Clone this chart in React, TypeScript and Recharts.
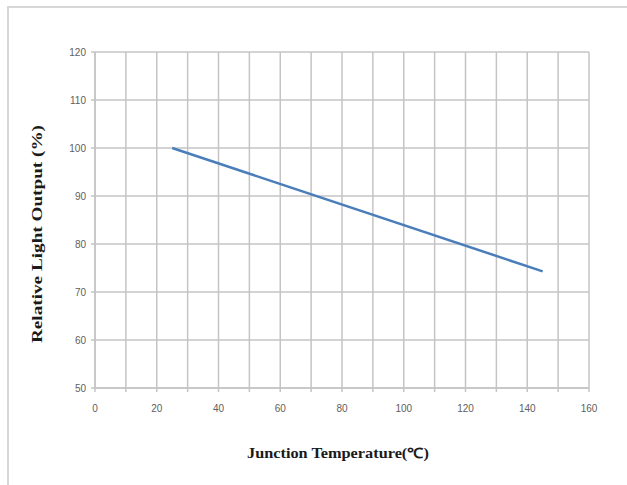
import React from 'react';
import { LineChart, Line, XAxis, YAxis, CartesianGrid } from 'recharts';

const temperatures = [25, 145];
const lightOutput = [100, 74.3];
const xTicks = [0, 10, 20, 30, 40, 50, 60, 70, 80, 90, 100, 110, 120, 130, 140, 150, 160];
const yTicks = [50, 60, 70, 80, 90, 100, 110, 120];

const data = temperatures.map((t, i) => ({ t, v: lightOutput[i] }));

const gridColor = '#c4c4c4';
const tickStyle = { fontSize: 10, fill: '#606060', fontFamily: 'Liberation Sans, Arial, sans-serif' };

const XTitle = (props: any) => {
  const vb = props.viewBox;
  const cx = vb.x + vb.width / 2 - 4;
  return (
    <text x={cx} y={vb.y + 70} textAnchor="middle" fontFamily="Liberation Serif, Times New Roman, serif" fontWeight="bold" fontSize={14} fill="#1a1a1a" textLength={182} lengthAdjust="spacingAndGlyphs">
      Junction Temperature(℃)
    </text>
  );
};

const YTitle = (props: any) => {
  const vb = props.viewBox;
  const cy = 234;
  const cx = 42;
  return (
    <text x={cx} y={cy} textAnchor="middle" transform={`rotate(-90 ${cx} ${cy})`} fontFamily="Liberation Serif, Times New Roman, serif" fontWeight="bold" fontSize={14} fill="#1a1a1a" textLength={218} lengthAdjust="spacingAndGlyphs">
      Relative Light Output (%)
    </text>
  );
};

export default function App() {
  return (
    <div style={{ position: 'absolute', left: 0, top: 0, width: 627, height: 485, background: '#fff', overflow: 'hidden' }}>
      <div style={{ position: 'absolute', left: 7, top: 6, width: 640, height: 500, borderLeft: '2px solid #d6d6d6', borderTop: '2px solid #d6d6d6' }} />
      <div style={{ position: 'absolute', left: 0, top: 0 }}>
        <LineChart width={627} height={485} data={data} margin={{ top: 52, right: 38, bottom: 0, left: 0 }}>
          <CartesianGrid stroke={gridColor} strokeWidth={1.5} />
          <XAxis
            dataKey="t"
            type="number"
            domain={[0, 160]}
            ticks={xTicks}
            interval={0}
            tickFormatter={(v: number) => (v % 20 === 0 ? String(v) : '')}
            height={97}
            tick={tickStyle}
            tickSize={4}
            tickMargin={13}
            axisLine={{ stroke: gridColor, strokeWidth: 1.5 }}
            tickLine={{ stroke: gridColor, strokeWidth: 1.5 }}
            label={<XTitle />}
          />
          <YAxis
            type="number"
            domain={[50, 120]}
            ticks={yTicks}
            interval={0}
            width={95}
            tick={tickStyle}
            tickSize={4}
            tickMargin={5}
            axisLine={{ stroke: gridColor, strokeWidth: 1.5 }}
            tickLine={{ stroke: gridColor, strokeWidth: 1.5 }}
            label={<YTitle />}
          />
          <Line dataKey="v" stroke="#4a7ebb" strokeWidth={2.5} dot={false} isAnimationActive={false} />
        </LineChart>
      </div>
    </div>
  );
}
